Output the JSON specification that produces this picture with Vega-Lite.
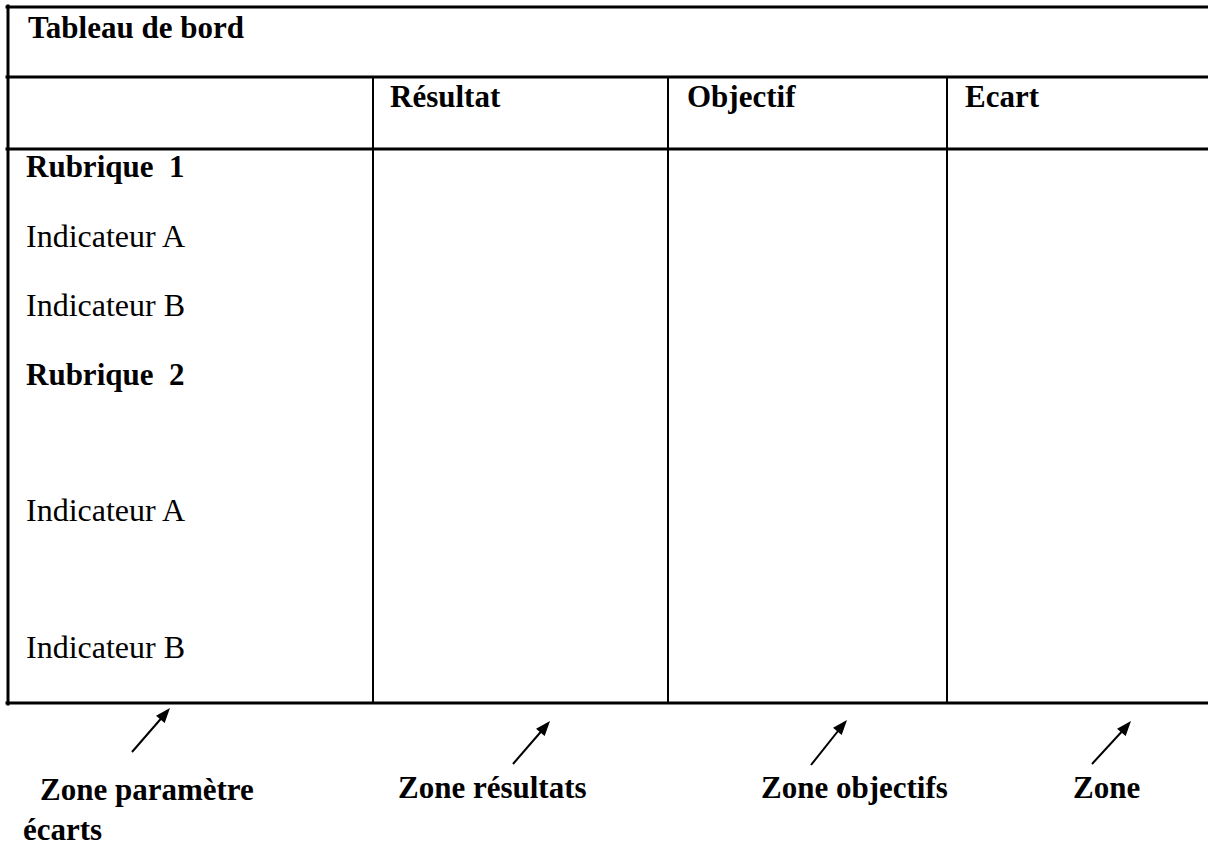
{
  "$schema": "https://vega.github.io/schema/vega-lite/v6.json",
  "width": 1208,
  "height": 846,
  "autosize": {"type": "none"},
  "padding": 0,
  "background": "white",
  "config": {"view": {"stroke": null}},
  "datasets": {
    "thick": [
      {"x": 7, "y": 7, "x2": 1208, "y2": 7},
      {"x": 7, "y": 77, "x2": 1208, "y2": 77},
      {"x": 7, "y": 149, "x2": 1208, "y2": 149},
      {"x": 7, "y": 703, "x2": 1208, "y2": 703},
      {"x": 8, "y": 6, "x2": 8, "y2": 704}
    ],
    "thin": [
      {"x": 373, "y": 77, "x2": 373, "y2": 703},
      {"x": 668, "y": 77, "x2": 668, "y2": 703},
      {"x": 947, "y": 77, "x2": 947, "y2": 703}
    ],
    "shafts": [
      {"x": 132, "y": 752, "x2": 165, "y2": 714},
      {"x": 513, "y": 764, "x2": 545, "y2": 727},
      {"x": 811, "y": 765, "x2": 842, "y2": 726},
      {"x": 1092, "y": 764, "x2": 1126, "y2": 727}
    ],
    "heads": [
      {"x": 170, "y": 708},
      {"x": 550, "y": 721},
      {"x": 847, "y": 720},
      {"x": 1131, "y": 721}
    ],
    "bold": [
      {"label": "Tableau de bord", "x": 28, "y": 38},
      {"label": "Résultat", "x": 390, "y": 107},
      {"label": "Objectif", "x": 687, "y": 107},
      {"label": "Ecart", "x": 965, "y": 107},
      {"label": "Rubrique\u00a0 1", "x": 26, "y": 177},
      {"label": "Rubrique\u00a0 2", "x": 26, "y": 385},
      {"label": "Zone paramètre", "x": 40, "y": 800},
      {"label": "écarts", "x": 23, "y": 840},
      {"label": "Zone résultats", "x": 398, "y": 798},
      {"label": "Zone objectifs", "x": 761, "y": 798},
      {"label": "Zone", "x": 1073, "y": 798}
    ],
    "regular": [
      {"label": "Indicateur A", "x": 26, "y": 247},
      {"label": "Indicateur B", "x": 26, "y": 316},
      {"label": "Indicateur A", "x": 26, "y": 521},
      {"label": "Indicateur B", "x": 26, "y": 658}
    ]
  },
  "encoding": {
    "x": {"field": "x", "type": "quantitative", "scale": {"domain": [0, 1208], "nice": false, "zero": false}, "axis": null},
    "y": {"field": "y", "type": "quantitative", "scale": {"domain": [0, 846], "nice": false, "zero": false, "reverse": true}, "axis": null}
  },
  "layer": [
    {
      "data": {"name": "thick"},
      "mark": {"type": "rule", "color": "black", "strokeWidth": 3, "strokeCap": "square"},
      "encoding": {"x2": {"field": "x2"}, "y2": {"field": "y2"}}
    },
    {
      "data": {"name": "thin"},
      "mark": {"type": "rule", "color": "black", "strokeWidth": 2},
      "encoding": {"x2": {"field": "x2"}, "y2": {"field": "y2"}}
    },
    {
      "data": {"name": "shafts"},
      "mark": {"type": "rule", "color": "black", "strokeWidth": 2},
      "encoding": {"x2": {"field": "x2"}, "y2": {"field": "y2"}}
    },
    {
      "data": {"name": "heads"},
      "mark": {"type": "point", "shape": "M0,0L-0.45,1.2L0.45,1.2Z", "size": 625, "angle": 40, "filled": true, "color": "black", "opacity": 1, "strokeWidth": 0}
    },
    {
      "data": {"name": "bold"},
      "mark": {"type": "text", "font": "Liberation Serif", "fontSize": 31, "fontWeight": "bold", "align": "left", "baseline": "alphabetic", "color": "black"},
      "encoding": {"text": {"field": "label"}}
    },
    {
      "data": {"name": "regular"},
      "mark": {"type": "text", "font": "Liberation Serif", "fontSize": 32, "align": "left", "baseline": "alphabetic", "color": "black"},
      "encoding": {"text": {"field": "label"}}
    }
  ]
}
